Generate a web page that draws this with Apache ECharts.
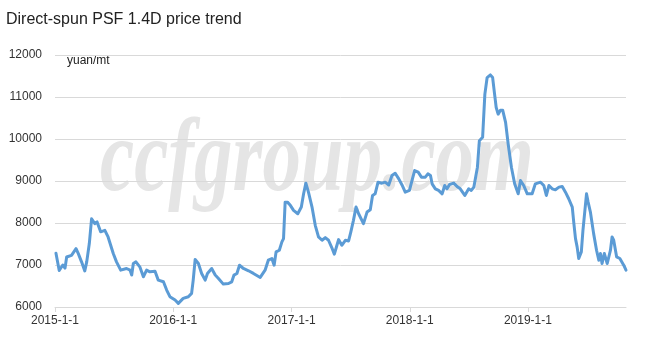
<!DOCTYPE html>
<html>
<head>
<meta charset="utf-8">
<script src="https://cdn.jsdelivr.net/npm/echarts@6/dist/echarts.min.js"></script>
<style>html,body{margin:0;padding:0;background:#fff}#c{width:648px;height:362px}</style>
</head>
<body>
<div id="c"></div>
<script>
const titleText = 'Direct-spun PSF 1.4D price trend';
const unitText = 'yuan/mt';
const watermarkText = 'ccfgroup.com';
const yTicks = [6000, 7000, 8000, 9000, 10000, 11000, 12000];
const xTickYears = [2015, 2016, 2017, 2018, 2019];

const dates = [
'2015-01-04','2015-01-14','2015-01-25','2015-02-01','2015-02-06','2015-02-21','2015-03-07','2015-03-14','2015-03-24','2015-04-03',
'2015-04-09','2015-04-17','2015-04-24','2015-05-04','2015-05-11','2015-05-22','2015-06-04','2015-06-14','2015-06-30','2015-07-10',
'2015-07-23','2015-08-10','2015-08-21','2015-08-26','2015-08-31','2015-09-08','2015-09-20','2015-10-01','2015-10-11','2015-10-21',
'2015-11-06','2015-11-16','2015-12-02','2015-12-12','2015-12-22','2016-01-07','2016-01-17','2016-02-01','2016-02-17','2016-02-27',
'2016-03-03','2016-03-09','2016-03-19','2016-03-29','2016-04-09','2016-04-16','2016-04-29','2016-05-10','2016-05-20','2016-06-04',
'2016-06-20','2016-06-30','2016-07-07','2016-07-16','2016-07-24','2016-08-05','2016-08-21','2016-09-05','2016-09-26','2016-10-11',
'2016-10-21','2016-11-01','2016-11-08','2016-11-14','2016-11-24','2016-12-02','2016-12-07','2016-12-12','2016-12-19','2016-12-28',
'2017-01-07','2017-01-20','2017-01-31','2017-02-07','2017-02-14','2017-02-22','2017-03-05','2017-03-15','2017-03-25','2017-04-05',
'2017-04-15','2017-04-25','2017-05-05','2017-05-13','2017-05-21','2017-05-26','2017-06-05','2017-06-16','2017-06-26','2017-07-03',
'2017-07-11','2017-07-19','2017-07-27','2017-08-11','2017-08-22','2017-09-01','2017-09-08','2017-09-16','2017-09-25','2017-10-07',
'2017-10-17','2017-10-28','2017-11-07','2017-11-17','2017-11-28','2017-12-08','2017-12-18','2017-12-31','2018-01-08','2018-01-16',
'2018-01-27','2018-02-06','2018-02-18','2018-02-26','2018-03-06','2018-03-11','2018-03-21','2018-03-31','2018-04-11','2018-04-19',
'2018-04-26','2018-05-04','2018-05-17','2018-05-27','2018-06-06','2018-06-12','2018-06-20','2018-07-02','2018-07-10','2018-07-18',
'2018-07-29','2018-08-04','2018-08-14','2018-08-21','2018-08-28','2018-09-07','2018-09-14','2018-09-20','2018-09-25','2018-10-01',
'2018-10-08','2018-10-15','2018-10-24','2018-11-01','2018-11-11','2018-11-21','2018-12-02','2018-12-09','2018-12-19','2018-12-30',
'2019-01-04','2019-01-14','2019-01-24','2019-02-09','2019-02-19','2019-02-27','2019-03-07','2019-03-17','2019-03-27','2019-04-07',
'2019-04-17','2019-04-27','2019-05-07','2019-05-18','2019-05-23','2019-05-28','2019-06-02','2019-06-07','2019-06-15','2019-06-20',
'2019-06-26','2019-07-01','2019-07-06','2019-07-13','2019-07-23','2019-08-01','2019-08-08','2019-08-13','2019-08-18','2019-08-25',
'2019-09-03','2019-09-13','2019-09-18','2019-09-23','2019-10-02','2019-10-12','2019-10-17','2019-10-24','2019-10-31'
];
const prices = [
7280,6870,7000,6925,7190,7230,7390,7270,7075,6860,
7075,7510,8100,7985,8025,7790,7826,7668,7274,7075,
6877,6917,6877,6760,7036,7075,6956,6720,6877,6838,
6850,6640,6600,6403,6245,6166,6087,6205,6245,6324,
6640,7131,7036,6799,6640,6799,6917,6760,6680,6545,
6560,6600,6760,6799,6996,6917,6862,6799,6704,6877,
7115,7155,6996,7312,7352,7550,7629,8497,8497,8420,
8300,8221,8379,8695,8948,8734,8379,7945,7668,7589,
7652,7589,7415,7257,7470,7605,7470,7589,7573,7790,
8063,8379,8221,7985,8260,8316,8656,8695,8972,8948,
8972,8905,9130,9185,9050,8905,8734,8775,9012,9249,
9210,9091,9091,9170,9130,8933,8814,8775,8695,8893,
8814,8917,8950,8870,8814,8775,8656,8814,8775,8854,
9328,9960,10040,11068,11463,11525,11463,11068,10750,10592,
10687,10687,10395,9881,9328,8933,8695,9012,8893,8695,
8656,8695,8933,8972,8893,8656,8893,8814,8790,8854,
8870,8734,8577,8379,7985,7628,7431,7154,7312,7826,
7826,8695,8497,8260,7747,7352,7115,7273,7036,7273,
7036,7352,7668,7589,7194,7155,7194,6996,6877
];

function toMs(s) { const p = s.split('-').map(Number); return Date.UTC(p[0], p[1] - 1, p[2]); }
const chart = echarts.init(document.getElementById('c'), null, {renderer: 'canvas'});
const yearTicks = xTickYears.map(y => Date.UTC(y, 0, 1));
const textColor = '#333333';
const fontFam = '"Liberation Sans", Arial, sans-serif';

chart.setOption({
  animation: false,
  backgroundColor: '#ffffff',
  title: {
    text: titleText, left: 1, top: 7,
    textStyle: {fontSize: 16, fontWeight: 'normal', color: '#222', fontFamily: fontFam}
  },
  graphic: [
    {type: 'text', left: 100, top: 111, z: -10, silent: true, scaleX: 0.74,
     style: {text: watermarkText, font: 'italic bold 104px "Liberation Serif", "DejaVu Serif", serif', fill: '#e5e5e5'}},
    {type: 'text', left: 67, top: 55, style: {text: unitText, font: '12px ' + fontFam, fill: '#222'}}
  ],
  grid: {left: 55, right: 22, top: 55, bottom: 55, containLabel: false},
  xAxis: {
    type: 'value',
    min: Date.UTC(2015, 0, 1),
    max: Date.UTC(2019, 9, 31),
    axisLine: {show: true, lineStyle: {color: '#d9d9d9', width: 1}},
    axisTick: {show: true, length: 5, lineStyle: {color: '#d9d9d9'}, customValues: yearTicks},
    axisLabel: {
      customValues: yearTicks, color: textColor, fontSize: 12, fontFamily: fontFam, margin: 8,
      formatter: v => { const d = new Date(v); return d.getUTCFullYear() + '-' + (d.getUTCMonth() + 1) + '-' + d.getUTCDate(); }
    },
    splitLine: {show: false}
  },
  yAxis: {
    type: 'value', min: yTicks[0], max: yTicks[yTicks.length - 1], interval: 1000,
    axisLine: {show: false}, axisTick: {show: false},
    axisLabel: {color: textColor, fontSize: 12, fontFamily: fontFam, margin: 13, formatter: v => String(v)},
    splitLine: {show: true, lineStyle: {color: '#d9d9d9', width: 1}}
  },
  series: [{
    type: 'line',
    data: dates.map((d, i) => [toMs(d), prices[i]]),
    showSymbol: false, symbol: 'none',
    lineStyle: {color: '#5b9bd5', width: 3, join: 'round', cap: 'round'},
    z: 5
  }]
});
</script>
</body>
</html>
